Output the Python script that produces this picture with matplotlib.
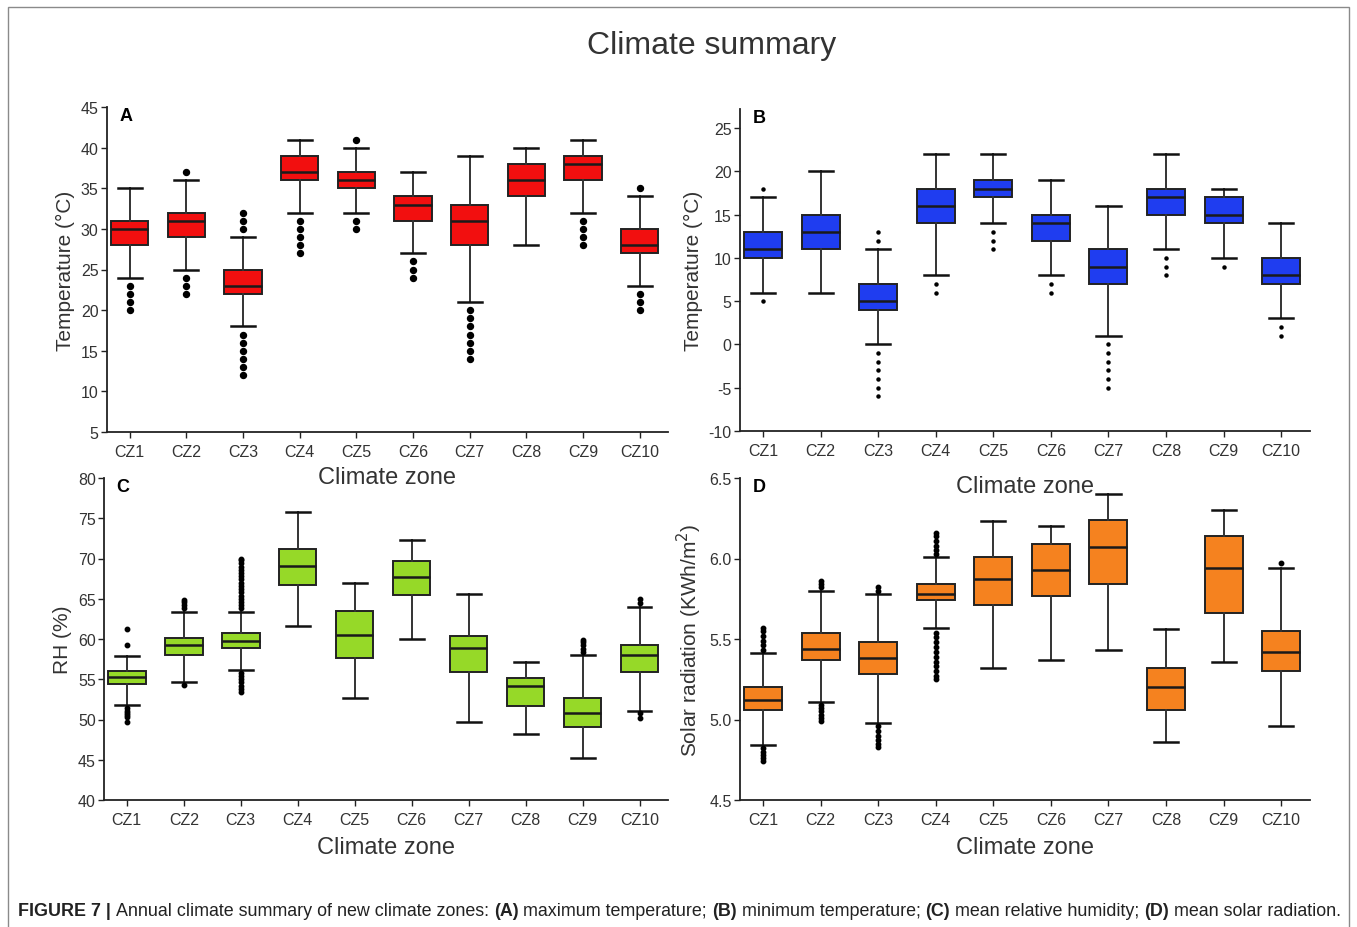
import matplotlib
matplotlib.use("Agg")
import matplotlib.pyplot as plt
from matplotlib.patches import Rectangle

plt.rcParams['font.family'] = ['Liberation Sans', 'DejaVu Sans']

zones = ["CZ1", "CZ2", "CZ3", "CZ4", "CZ5", "CZ6", "CZ7", "CZ8", "CZ9", "CZ10"]

# Panel A: maximum temperature
a_q1 = [28, 29, 22, 36, 35, 31, 28, 34, 36, 27]
a_med = [30, 31, 23, 37, 36, 33, 31, 36, 38, 28]
a_q3 = [31, 32, 25, 39, 37, 34, 33, 38, 39, 30]
a_lo = [24, 25, 18, 32, 32, 27, 21, 28, 32, 23]
a_hi = [35, 36, 29, 41, 40, 37, 39, 40, 41, 34]
a_fl = [[20, 21, 22, 23], [22, 23, 24, 37], [12, 13, 14, 15, 16, 17, 30, 31, 32],
        [27, 28, 29, 30, 31], [30, 31, 41], [24, 25, 26], [14, 15, 16, 17, 18, 19, 20],
        [], [28, 29, 30, 31], [20, 21, 22, 35]]

# Panel B: minimum temperature
b_q1 = [10, 11, 4, 14, 17, 12, 7, 15, 14, 7]
b_med = [11, 13, 5, 16, 18, 14, 9, 17, 15, 8]
b_q3 = [13, 15, 7, 18, 19, 15, 11, 18, 17, 10]
b_lo = [6, 6, 0, 8, 14, 8, 1, 11, 10, 3]
b_hi = [17, 20, 11, 22, 22, 19, 16, 22, 18, 14]
b_fl = [[5, 18], [], [-6, -5, -4, -3, -2, -1, 12, 13], [6, 7], [11, 12, 13], [6, 7],
        [-5, -4, -3, -2, -1, 0], [8, 9, 10], [9], [1, 2]]

# Panel C: mean relative humidity
c_q1 = [54.4, 58.0, 58.9, 66.7, 57.6, 65.5, 55.9, 51.7, 49.1, 55.9]
c_med = [55.3, 59.2, 59.7, 69.1, 60.5, 67.7, 58.9, 54.1, 50.8, 58.0]
c_q3 = [56.0, 60.1, 60.7, 71.2, 63.5, 69.7, 60.4, 55.1, 52.7, 59.2]
c_lo = [51.8, 54.7, 56.2, 61.6, 52.7, 60.0, 49.7, 48.2, 45.2, 51.1]
c_hi = [57.9, 63.4, 63.4, 75.8, 67.0, 72.3, 65.6, 57.1, 58.0, 64.0]
c_fl = [[49.7, 50.3, 50.5, 50.8, 51.1, 51.4, 59.2, 61.2],
        [54.3, 63.8, 64.2, 64.6, 64.9],
        [53.4, 53.8, 54.2, 54.6, 55.0, 55.4, 55.8, 63.8, 64.2, 64.6, 65.0, 65.4,
         65.8, 66.2, 66.6, 67.0, 67.4, 67.8, 68.2, 68.6, 69.0, 69.4, 69.8, 70.0],
        [], [], [], [], [],
        [58.4, 58.8, 59.2, 59.6, 59.9],
        [50.2, 50.8, 64.5, 65.0]]

# Panel D: mean solar radiation
d_q1 = [5.06, 5.37, 5.28, 5.74, 5.71, 5.77, 5.84, 5.06, 5.66, 5.30]
d_med = [5.12, 5.44, 5.38, 5.78, 5.87, 5.93, 6.07, 5.20, 5.94, 5.42]
d_q3 = [5.20, 5.54, 5.48, 5.84, 6.01, 6.09, 6.24, 5.32, 6.14, 5.55]
d_lo = [4.84, 5.11, 4.98, 5.57, 5.32, 5.37, 5.43, 4.86, 5.36, 4.96]
d_hi = [5.41, 5.80, 5.78, 6.01, 6.23, 6.20, 6.40, 5.56, 6.30, 5.94]
d_fl = [[4.74, 4.76, 4.78, 4.80, 4.82, 5.43, 5.46, 5.49, 5.52, 5.55, 5.57],
        [4.99, 5.01, 5.03, 5.05, 5.07, 5.09, 5.82, 5.84, 5.86],
        [4.83, 4.85, 4.87, 4.90, 4.93, 4.96, 5.80, 5.82],
        [5.25, 5.27, 5.30, 5.33, 5.36, 5.39, 5.42, 5.45, 5.48, 5.51, 5.54,
         6.03, 6.05, 6.08, 6.11, 6.14, 6.16],
        [], [], [], [], [], [5.97]]

W, H = 1357, 928
fig = plt.figure(figsize=(W / 100, H / 100), dpi=100)


def px_axes(x0, y_top, x1, y_bot):
    ax = fig.add_axes([x0 / W, 1 - y_bot / H, (x1 - x0) / W, (y_bot - y_top) / H])
    ax.set_facecolor('none')
    return ax


def panel(ax, q1, med, q3, lo, hi, fl, color, ylim, yticks, yticklabels,
          ylabel, letter, fmark, fms, xlabpad):
    stats = []
    for i in range(len(zones)):
        stats.append(dict(q1=q1[i], med=med[i], q3=q3[i], whislo=lo[i],
                          whishi=hi[i], fliers=fl[i], label=zones[i]))
    ax.bxp(stats, positions=range(1, 11), widths=0.66, capwidths=0.42,
           patch_artist=True, showfliers=True,
           boxprops=dict(facecolor=color, edgecolor='#222222', linewidth=1.4),
           medianprops=dict(color='#1a1a1a', linewidth=1.8),
           whiskerprops=dict(color='#333333', linewidth=1.4),
           capprops=dict(color='#111111', linewidth=1.8),
           flierprops=dict(marker=fmark, markersize=fms, markerfacecolor='black',
                           markeredgecolor='black', linestyle='none'))
    ax.set_xlim(0.6, 10.5)
    ax.set_ylim(*ylim)
    ax.set_yticks(yticks)
    ax.set_yticklabels(yticklabels)
    ax.set_xticks(range(1, 11))
    ax.set_xticklabels(zones)
    for s in ['top', 'right']:
        ax.spines[s].set_visible(False)
    for s in ['left', 'bottom']:
        ax.spines[s].set_linewidth(1.3)
        ax.spines[s].set_color('#222222')
    ax.tick_params(axis='both', labelsize=11.5, colors='#222222', length=4,
                   width=1.0, labelcolor='#333333')
    ax.tick_params(axis='x', pad=5)
    ax.tick_params(axis='y', pad=2)
    ax.set_ylabel(ylabel, fontsize=15, color='#333333', labelpad=4)
    ax.set_xlabel("Climate zone", fontsize=17, color='#333333', labelpad=xlabpad)
    ax.text(0.022, 1.0, letter, transform=ax.transAxes, fontsize=13,
            fontweight='bold', va='top', ha='left', color='black')


axA = px_axes(107, 108, 668, 433)
panel(axA, a_q1, a_med, a_q3, a_lo, a_hi, a_fl, '#f20f0f', (5, 45),
      range(5, 46, 5), [str(v) for v in range(5, 46, 5)], "Temperature (°C)", "A", 'o', 4.3, 5)

axB = px_axes(740, 110, 1310, 432)
panel(axB, b_q1, b_med, b_q3, b_lo, b_hi, b_fl, '#1f3df0', (-10, 27.2),
      range(-10, 26, 5), [str(v) for v in range(-10, 26, 5)], "Temperature (°C)", "B", 'o', 2.2, 12)

axC = px_axes(104, 479, 668, 801)
panel(axC, c_q1, c_med, c_q3, c_lo, c_hi, c_fl, '#96d928', (40, 80),
      range(40, 81, 5), [str(v) for v in range(40, 81, 5)], "RH (%)", "C", 'o', 3.2, 6)

axD = px_axes(740, 479, 1310, 801)
dt = [4.5, 5.0, 5.5, 6.0, 6.5]
panel(axD, d_q1, d_med, d_q3, d_lo, d_hi, d_fl, '#f5821f', (4.5, 6.5),
      dt, [f"{v:.1f}" for v in dt], "Solar radiation (KWh/m$^2$)", "D", 'o', 3.2, 6)

fig.text(712 / W, 1 - 46 / H, "Climate summary", fontsize=23, ha='center',
         va='center', color='#333333')

# frame
fig.patches.append(Rectangle((8 / W, -0.02), (1349 - 8) / W, 1.02 - 8 / H,
                             transform=fig.transFigure, fill=False,
                             edgecolor='#8a8a8a', linewidth=1.0))

# caption with bold parts, scaled to span the frame width
parts = [("FIGURE 7 | ", 'bold'), ("Annual climate summary of new climate zones: ", 'normal'),
         ("(A)", 'bold'), (" maximum temperature; ", 'normal'),
         ("(B)", 'bold'), (" minimum temperature; ", 'normal'),
         ("(C)", 'bold'), (" mean relative humidity; ", 'normal'),
         ("(D)", 'bold'), (" mean solar radiation.", 'normal')]
renderer = fig.canvas.get_renderer()


def total_width(fs):
    tot = 0.0
    for txt, wt in parts:
        t = fig.text(0, 0, txt, fontsize=fs, fontweight=wt)
        tot += t.get_window_extent(renderer=renderer).width
        t.remove()
    return tot


fs = 10.0 * (1327.0 / total_width(10.0))
x = 18.0
ycap = 1 - 912 / H
for txt, wt in parts:
    t = fig.text(x / W, ycap, txt, fontsize=fs, fontweight=wt, ha='left',
                 va='center', color='#222222')
    x += t.get_window_extent(renderer=renderer).width

fig.savefig("out.png", dpi=100)
